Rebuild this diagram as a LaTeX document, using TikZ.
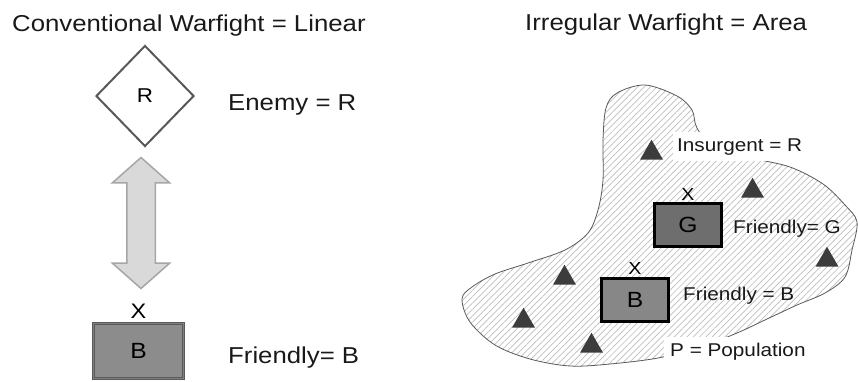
\documentclass[tikz,border=0pt]{standalone}
\usepackage{fontspec}
\setmainfont{Liberation Sans}[FakeStretch=1.12]
\usepackage{xcolor}
\usepackage{tikz}
\usetikzlibrary{shapes,arrows,positioning,patterns.meta}

\definecolor{edgegray}{HTML}{595959}
\definecolor{arrowfill}{HTML}{D9D9D9}
\definecolor{arrowdraw}{HTML}{A6A6A6}
\definecolor{leftfill}{HTML}{8C8C8C}
\definecolor{gfill}{HTML}{6E6E6E}
\definecolor{bfill}{HTML}{878787}
\definecolor{trigray}{HTML}{3C3C3C}
\definecolor{hatchgray}{HTML}{BDBDBD}

\begin{document}
\begin{tikzpicture}[x=1pt,y=-1pt,
	big/.style={font=\fontsize{23}{26}\selectfont,inner sep=0pt,text=black!90},
	small/.style={font=\fontsize{18.5}{21}\selectfont,inner sep=0pt,text=black!90},
	marker/.style={regular polygon,regular polygon sides=3,fill=trigray,inner sep=0pt,minimum size=26.5pt},
	unitbox/.style={draw=black,line width=3pt,minimum width=67pt,minimum height=43pt,inner sep=0pt,font=\fontsize{22}{24}\selectfont}]
			\useasboundingbox (0,0) rectangle (858,381);
			
			\node[big,anchor=base west] (lintitle) at (12,31) {Conventional Warfight = Linear};
			\node[big,anchor=base west] (areatitle) at (525,30) {Irregular Warfight = Area};
			
			\node[diamond,draw=edgegray,line width=2pt,minimum width=98pt,minimum height=101pt,inner sep=0pt] (enemy) at (145,96) {\fontsize{20}{22}\selectfont R};
			\node[big,anchor=base west] (enemylabel) at (228,110) {Enemy = R};
			
			\node[double arrow,rotate=90,draw=arrowdraw,fill=arrowfill,line width=1.5pt,minimum height=131pt,inner xsep=0pt,inner ysep=13.5pt,double arrow head extend=14.5pt,double arrow tip angle=97] (link) at (141,223) {};
			
			\node[draw=edgegray,double=gray,double distance=1.5pt,line width=0.8pt,fill=leftfill,minimum width=90pt,minimum height=55pt,inner sep=0pt,font=\fontsize{22}{24}\selectfont] (friend) at (138.5,351) {B};
			\node[font=\fontsize{21}{23}\selectfont,inner sep=0pt,above=4pt of friend] (xleft) {X};
			\node[big,anchor=base west] (friendlabel) at (228,363) {Friendly= B};
			
			\draw[edgegray,line width=0.8pt,pattern={Lines[angle=45,distance=4.5pt,line width=0.7pt]},pattern color=hatchgray]
			plot[smooth cycle,tension=0.55] coordinates {(645,85) (677,96) (692,110) (697,128) (715,150) (750,158) (790,167) (823,184) (845,205) (857,222) (852,250) (845,277) (825,293) (797,305) (767,319) (737,333) (700,347) (658,358) (610,364) (570,366) (530,359) (495,345) (470,322) (462,299) (472,287) (495,274) (528,263) (565,250) (588,233) (598,210) (603,180) (603,140) (606,108) (617,93)};
			
			\node[small,anchor=base west,fill=white,inner xsep=4pt,inner ysep=6pt] (insurgent) at (673,151) {Insurgent = R};
			\node[small,anchor=base west,fill=white,inner xsep=6pt,inner ysep=6pt] (population) at (664,356) {P = Population};
			
			\node[unitbox,fill=gfill] (gbox) at (688,225) {G};
			\node[font=\fontsize{17.5}{20}\selectfont,inner sep=0pt,above=1pt of gbox] (xg) {X};
			\node[small,anchor=base west] (glabel) at (733,233) {Friendly= G};
			
			\node[unitbox,fill=bfill] (bbox) at (635,299.5) {B};
			\node[font=\fontsize{17.5}{20}\selectfont,inner sep=0pt,above=2pt of bbox] (xb) {X};
			\node[small,anchor=base west] (blabel) at (683,300) {Friendly = B};
			
			\node[marker] (tri1) at (651.5,153) {};
			\node[marker] (tri2) at (752.5,191) {};
			\node[marker] (tri3) at (827,260) {};
			\node[marker] (tri4) at (564.5,278) {};
			\node[marker] (tri5) at (523.5,321) {};
			\node[marker] (tri6) at (591.5,346) {};
\end{tikzpicture}
\end{document}
